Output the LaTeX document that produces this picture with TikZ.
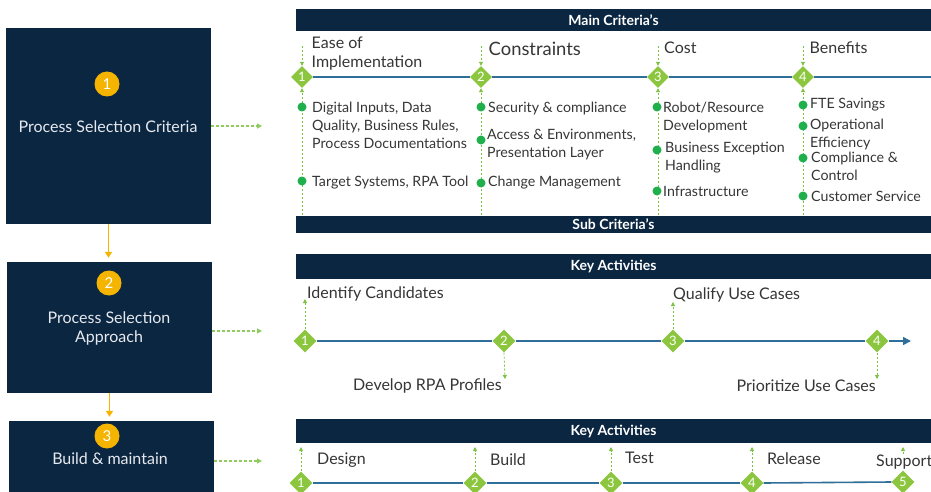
\documentclass[tikz,border=0pt]{standalone}
\usepackage{fontspec}
\setmainfont{Lato}
\usetikzlibrary{shapes.geometric,arrows.meta,calc}
\definecolor{navy}{HTML}{0B2641}
\definecolor{gold}{HTML}{F5B400}
\definecolor{dgreen}{HTML}{8CC63E}
\definecolor{bgreen}{HTML}{1FB04B}
\definecolor{dashg}{HTML}{7CC242}
\definecolor{steel}{HTML}{2F6F99}
\definecolor{txt}{HTML}{363636}
\definecolor{boxtxt}{HTML}{E6E9EE}
\begin{document}
\begin{tikzpicture}[x=1pt,y=-1pt,
  leftbox/.style={fill=navy, draw=none, minimum width=205pt, inner sep=0},
  numc/.style={circle, fill=gold, text=white, minimum size=25pt, inner sep=0, font=\fontsize{15}{15}\selectfont},
  boxlbl/.style={text=boxtxt, font=\fontsize{16}{19.5}\selectfont, align=center, inner sep=0},
  bar/.style={fill=navy, text=white, font=\bfseries\fontsize{14}{14}\selectfont, minimum width=635pt, inner sep=0},
  dia/.style={diamond, aspect=1, fill=dgreen, text=white, minimum size=22pt, inner sep=0, font=\fontsize{13}{13}\selectfont},
  gdot/.style={circle, fill=bgreen, minimum size=9pt, inner sep=0},
  gd/.style={draw=dashg, line width=0.8pt, dash pattern=on 2pt off 2pt, -{Triangle[length=4pt,width=4pt]}},
  gdl/.style={draw=dashg!85!white, line width=1.2pt, dash pattern=on 3pt off 2pt, -{Triangle[length=5pt,width=5pt]}},
  tl/.style={draw=steel, line width=1.6pt},
  oarr/.style={draw=gold, line width=1.6pt, -{Triangle[length=6pt,width=7pt]}},
  lbl/.style={text=txt, font=\fontsize{14.2}{18}\selectfont, inner sep=0, align=left},
  head/.style={text=txt, font=\fontsize{16}{19}\selectfont, inner sep=0, align=left}
]
\clip (0,0) rectangle (931,492);
\fill[white] (0,0) rectangle (931,492);

% ---------- left column ----------
\node[leftbox, minimum height=196pt] (b1) at (108.5,126) {};
\node[leftbox, minimum height=131pt] (b2) at (109.5,327.5) {};
\node[leftbox, minimum height=80pt] (b3) at (111.5,461) {};
\node[numc] (c1) at (107,84) {1};
\node[numc] (c2) at (109,283) {2};
\node[numc] (c3) at (107,436) {3};
\node[boxlbl] (t1) at (108,127) {Process Selection Criteria};
\node[boxlbl] (t2) at (109,328.5) {Process Selection\\Approach};
\node[boxlbl] (t3) at (110,459) {Build \& maintain};
\draw[oarr, shorten >=4pt] (b1.south) -- (b1.south |- b2.north);
\draw[oarr, shorten >=4pt] (b2.south) -- (b2.south |- b3.north);
\coordinate (a1) at (262,126);
\coordinate (a2) at (262,331);
\coordinate (a3) at (262,461);
\draw[gdl] (b1.east |- a1) -- (a1);
\draw[gdl] (b2.east |- a2) -- (a2);
\draw[gdl] (b3.east |- a3) -- (a3);

% ---------- panel 1 ----------
\node[bar, minimum height=22pt] (h1) at (613.5,20.5) {Main Criteria's};
\node[bar, minimum height=17pt] (h2) at (613.5,224) {Sub Criteria's};
\node[dia] (m1) at (302,77) {1};
\node[dia] (m2) at (481,77) {2};
\node[dia] (m3) at (658,77) {3};
\node[dia] (m4) at (803,77) {4};
\coordinate (e1) at (931,77);
\draw[tl] (m1.east) -- (m2.west);
\draw[tl] (m2.east) -- (m3.west);
\draw[tl] (m3.east) -- (m4.west);
\draw[tl] (m4.east) -- (e1);
\foreach \i/\x in {1/302,2/481,3/658,4/803}{
  \coordinate (s\i) at (\x,46);
  \coordinate (u\i) at (\x,215);
  \draw[gd] (s\i) -- (m\i.north);
  \draw[gd] (u\i) -- (m\i.south);
}
\node[head, anchor=north west] (g1) at (311.5,36.5) {Ease of\\Implementation};
\node[head, anchor=west, font=\fontsize{18.4}{18.4}\selectfont] (g2) at (488.5,49) {Constraints};
\node[head, anchor=west] (g3) at (664,47.5) {Cost};
\node[head, anchor=west] (g4) at (809.5,47.5) {Benefits};

% bullets column 1
\node[gdot] (p11) at (302,107) {};
\node[lbl, anchor=north west] (l11) at (312,101.5) {Digital Inputs, Data\\Quality, Business Rules,\\Process Documentations};
\node[gdot] (p12) at (302,181) {};
\node[lbl, anchor=west] (l12) at (312,182.5) {Target Systems, RPA Tool};
% column 2
\node[gdot] (p21) at (481,107) {};
\node[lbl, anchor=west] (l21) at (488,108.5) {Security \& compliance};
\node[gdot] (p22) at (481,140) {};
\node[lbl, anchor=north west] (l22) at (487,128.5) {Access \& Environments,\\Presentation Layer};
\node[gdot] (p23) at (481,183) {};
\node[lbl, anchor=west] (l23) at (488,182.5) {Change Management};
% column 3
\node[gdot] (p31) at (657,107) {};
\node[lbl, anchor=north west] (l31) at (663,101.5) {Robot/Resource\\Development};
\node[gdot] (p32) at (657,150) {};
\node[lbl, anchor=north west] (l32) at (665,141.5) {Business Exception\\Handling};
\node[gdot] (p33) at (657,191) {};
\node[lbl, anchor=west] (l33) at (663,191.5) {Infrastructure};
% column 4
\node[gdot] (p41) at (803,105) {};
\node[lbl, anchor=west] (l41) at (810,104.5) {FTE Savings};
\node[gdot] (p42) at (803,126) {};
\node[lbl, anchor=north west] (l42) at (810,118.5) {Operational\\Efficiency};
\node[gdot] (p43) at (803,158) {};
\node[lbl, anchor=north west] (l43) at (811,151.5) {Compliance \&\\Control};
\node[gdot] (p44) at (803,196) {};
\node[lbl, anchor=west] (l44) at (811,196.5) {Customer Service};

% ---------- panel 2 ----------
\node[bar, minimum height=25pt] (k1) at (613.5,266) {Key Activities};
\node[dia, minimum size=23pt] (n1) at (305,341) {1};
\node[dia, minimum size=23pt] (n2) at (504,341) {2};
\node[dia, minimum size=23pt] (n3) at (673,341) {3};
\node[dia, minimum size=23pt] (n4) at (877,341) {4};
\coordinate (f2) at (911,341);
\draw[tl] (n1.east) -- (n2.west);
\draw[tl] (n2.east) -- (n3.west);
\draw[tl] (n3.east) -- (n4.west);
\draw[tl, -{Triangle[length=8pt,width=8pt]}] (n4.east) -- (f2);
\coordinate (v1) at (305,299);
\coordinate (v2) at (505,379);
\coordinate (v3) at (673,302);
\coordinate (v4) at (877,379);
\draw[gd] (n1.north) -- (v1);
\draw[gd] (n2.south) -- (v2);
\draw[gd] (n3.north) -- (v3);
\draw[gd] (n4.south) -- (v4);
\node[head, anchor=west] (r1) at (307,294) {Identify Candidates};
\node[head, anchor=east] (r2) at (502,386) {Develop RPA Profiles};
\node[head, anchor=west] (r3) at (673,295) {Qualify Use Cases};
\node[head, anchor=east] (r4) at (876,386) {Prioritize Use Cases};

% ---------- panel 3 ----------
\node[bar, minimum height=24pt] (k2) at (613.5,431) {Key Activities};
\node[dia, minimum size=23pt] (q1) at (301,483) {1};
\node[dia, minimum size=23pt] (q2) at (475,483) {2};
\node[dia, minimum size=23pt] (q3) at (611,483) {3};
\node[dia, minimum size=23pt] (q4) at (752,483) {4};
\node[dia, minimum size=23pt] (q5) at (903,482) {5};
\draw[tl] (q1.east) -- (q2.west);
\draw[tl] (q2.east) -- (q3.west);
\draw[tl] (q3.east) -- (q4.west);
\draw[tl] (q4.east) -- (q5.west);
\foreach \i/\x in {1/301,2/475,3/611,4/752,5/903}{
  \coordinate (w\i) at (\x,447);
  \draw[gd] (q\i.north) -- (w\i);
}
\node[head, anchor=west] (z1) at (317,460) {Design};
\node[head, anchor=west] (z2) at (490,460) {Build};
\node[head, anchor=west] (z3) at (625,458) {Test};
\node[head, anchor=west] (z4) at (767,459) {Release};
\node[head, anchor=west, fill=white, inner sep=1pt] (z5) at (875,462) {Support};
\end{tikzpicture}
\end{document}
